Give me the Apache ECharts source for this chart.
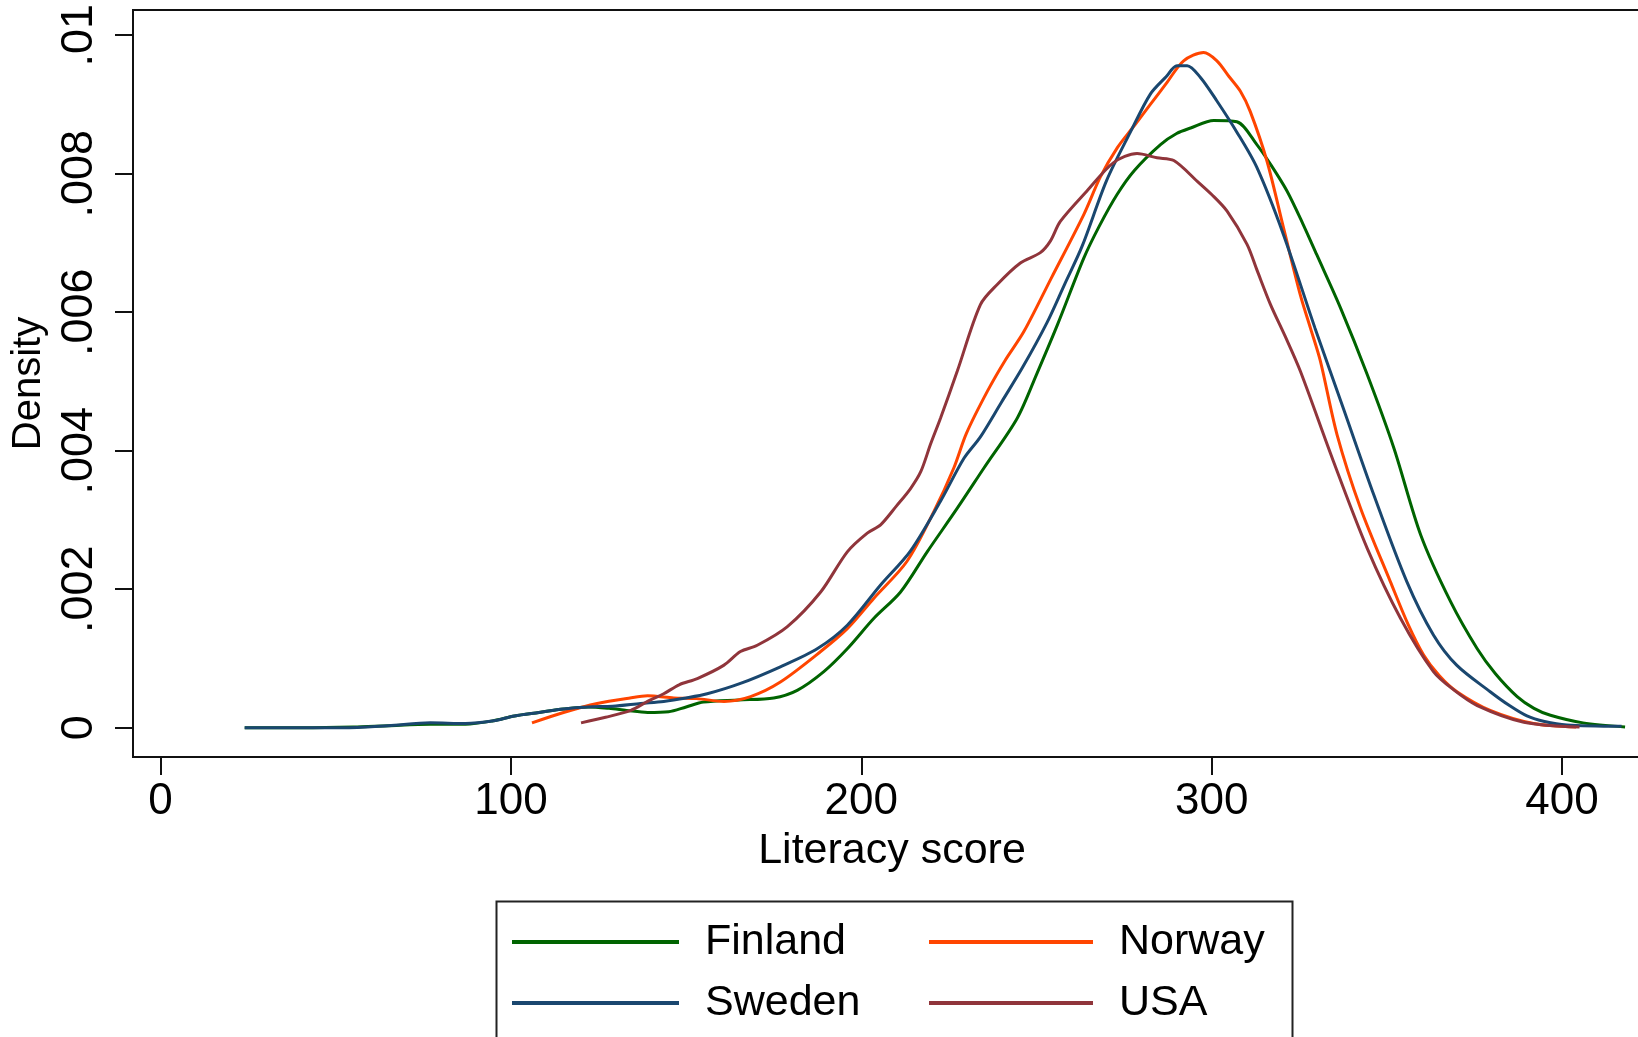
<!DOCTYPE html>
<html>
<head>
<meta charset="utf-8">
<script src="https://cdn.jsdelivr.net/npm/echarts@6/dist/echarts.min.js"></script>
<style>
html,body{margin:0;padding:0;background:#fff;}
#chart{width:1638px;height:1037px;}
</style>
</head>
<body>
<div id="chart"></div>
<script>
var seriesNames = ['Finland', 'Norway', 'Sweden', 'USA'];
var seriesColors = ['#006400', '#ff4500', '#1a476f', '#90353b'];

var xTickValues = [0, 100, 200, 300, 400];
var yTickValues = [0, 0.002, 0.004, 0.006, 0.008, 0.01];
var yTickLabels = ['0', '.002', '.004', '.006', '.008', '.01'];

var finland = [[24,0],[40,0],[55,0.00001],[65,0.00003],[77,0.00005],[87,0.00005],[95,0.0001],[101,0.00017],[108,0.00022],[115,0.00027],[122,0.0003],[128,0.00028],[133,0.00025],[139,0.00022],[145,0.00023],[150,0.0003],[155,0.00037],[165,0.0004],[175,0.00043],[181.7,0.00054],[189.3,0.00081],[196,0.00114],[203.6,0.00158],[211.2,0.00196],[218.8,0.00254],[227.4,0.00317],[235,0.00375],[244.5,0.00447],[250,0.0051],[256,0.00582],[263.5,0.00678],[268,0.00725],[273,0.0077],[278,0.00805],[285.4,0.00842],[290,0.00858],[294,0.00866],[300.6,0.00877],[307.2,0.00875],[312.9,0.00842],[317,0.00812],[321.5,0.00775],[326,0.00728],[330,0.00683],[336.8,0.00606],[344.4,0.0051],[352,0.00404],[359.7,0.00278],[368.2,0.00182],[375.8,0.00114],[381,0.00078],[387.2,0.00045],[392,0.00028],[396.7,0.00018],[406,0.00007],[418,0.00001]];

var norway = [[106,0.00007],[115,0.00022],[124.6,0.00035],[134,0.00043],[139,0.00046],[146.5,0.00043],[153,0.00042],[160.8,0.00038],[168.4,0.00045],[176.9,0.00066],[188.4,0.0011],[196,0.00143],[203.6,0.00187],[213,0.0024],[220.7,0.00312],[226.4,0.00375],[230,0.00425],[236,0.00486],[241,0.0053],[246.4,0.00572],[254.3,0.0065],[263.5,0.00741],[268.2,0.00795],[273,0.00837],[278,0.0087],[282.5,0.009],[287,0.0093],[292,0.00963],[297.7,0.00975],[301.5,0.00963],[305,0.0094],[308.2,0.00919],[311,0.0089],[315.8,0.00818],[320.5,0.00722],[325.3,0.00625],[328.2,0.00577],[331,0.0053],[335.8,0.00423],[342.5,0.00317],[351,0.00211],[356,0.0015],[360.5,0.00105],[365,0.00075],[370,0.00052],[379.5,0.00025],[391.9,0.00006],[404,0.00001]];

var sweden = [[24,0],[40,0],[52,0],[65,0.00003],[77,0.00007],[87,0.00006],[95,0.0001],[101,0.00017],[108,0.00022],[115,0.00027],[122,0.0003],[129,0.00031],[137,0.00035],[143.6,0.00038],[150,0.00043],[156,0.00049],[165.5,0.00064],[176.9,0.00088],[187.4,0.00114],[196,0.00148],[205.5,0.00206],[214,0.00255],[222.6,0.00327],[229.3,0.00389],[234,0.0042],[240,0.0047],[246,0.0052],[253,0.00585],[258,0.0064],[263,0.00695],[270,0.0079],[276.8,0.0086],[282.5,0.00915],[287,0.0094],[290.1,0.00956],[293,0.00956],[296.8,0.00939],[301.5,0.00905],[307.2,0.0086],[312.9,0.00809],[320.5,0.00712],[329.5,0.00577],[337.6,0.00461],[346.3,0.00336],[355.7,0.00211],[363.3,0.00134],[370,0.0009],[379.5,0.00052],[385,0.00032],[390,0.00017],[395,0.00009],[401.4,0.00004],[417,0.00002]];

var usa = [[120,0.00007],[127,0.00015],[134.2,0.00025],[139,0.00038],[143.6,0.00049],[148,0.00062],[153.2,0.00071],[160.7,0.0009],[165.5,0.0011],[170.3,0.00119],[178.9,0.00146],[188.4,0.00196],[196,0.00254],[201.7,0.00281],[205.5,0.00293],[210,0.0032],[214,0.00345],[217,0.0037],[219.8,0.0041],[222.6,0.00447],[227.4,0.00515],[234,0.00611],[238.8,0.0064],[245.4,0.00671],[251.1,0.00686],[254,0.00703],[256.8,0.00731],[264.4,0.00775],[272,0.00816],[278.7,0.00829],[284.4,0.00823],[289.2,0.00819],[295.9,0.00789],[300,0.0077],[304.4,0.00746],[310.1,0.00698],[313,0.0066],[316.8,0.00611],[321,0.00565],[325.3,0.00515],[334.8,0.00384],[344.4,0.00259],[353.9,0.00158],[363.3,0.00081],[369,0.00055],[375.8,0.00032],[389.1,0.00008],[405,0.00001]];

var seriesData = [finland, norway, sweden, usa];

var FONT = "'Liberation Sans', Arial, sans-serif";

var chart = echarts.init(document.getElementById('chart'), null, {renderer: 'canvas'});

var legendText = {color: '#000', fontSize: 43, fontFamily: FONT, lineHeight: 44, padding: [0, 0, 0, 21]};

var option = {
  backgroundColor: '#ffffff',
  animation: false,
  grid: {
    left: 133, top: 10, width: 1518, height: 747,
    outerBoundsMode: 'none', containLabel: false,
    show: true, borderColor: '#111', borderWidth: 2, backgroundColor: 'transparent'
  },
  xAxis: {
    type: 'value', min: -7.88, max: 425.4,
    name: 'Literacy score', nameLocation: 'middle', nameGap: 73,
    nameTextStyle: {color: '#000', fontSize: 43, fontFamily: FONT, lineHeight: 43},
    axisLine: {show: false, onZero: false},
    splitLine: {show: false},
    axisTick: {show: true, inside: false, length: 18, lineStyle: {color: '#111', width: 2}, customValues: xTickValues},
    axisLabel: {show: true, margin: 23, color: '#000', fontSize: 44, fontFamily: FONT, lineHeight: 44, customValues: xTickValues}
  },
  yAxis: {
    type: 'value', min: -0.000423, max: 0.010364,
    name: 'Density', nameLocation: 'middle', nameGap: 79, nameRotate: 90,
    nameTextStyle: {color: '#000', fontSize: 40, fontFamily: FONT, lineHeight: 40},
    axisLine: {show: false, onZero: false},
    splitLine: {show: false},
    axisTick: {show: true, inside: false, length: 18, lineStyle: {color: '#111', width: 2}, customValues: yTickValues},
    axisLabel: {
      show: true, rotate: 90, margin: 31, color: '#000', fontSize: 45, fontFamily: FONT, lineHeight: 45,
      customValues: yTickValues,
      formatter: function (v) {
        for (var i = 0; i < yTickValues.length; i++) {
          if (Math.abs(v - yTickValues[i]) < 1e-9) return yTickLabels[i];
        }
        return '';
      }
    }
  },
  legend: [
    {
      orient: 'vertical', left: 507, top: 915, padding: 5,
      data: [seriesNames[0], seriesNames[2]],
      icon: 'rect', itemWidth: 167, itemHeight: 4, itemGap: 17,
      textStyle: legendText, selectedMode: false
    },
    {
      orient: 'vertical', left: 924, top: 915, padding: 5,
      data: [seriesNames[1], seriesNames[3]],
      icon: 'rect', itemWidth: 164, itemHeight: 4, itemGap: 17,
      textStyle: legendText, selectedMode: false
    }
  ],
  graphic: [
    {
      type: 'rect', left: 494, top: 899, silent: true,
      shape: {width: 796, height: 200},
      style: {fill: 'none', stroke: '#222', lineWidth: 2}
    }
  ],
  series: seriesNames.map(function (name, i) {
    return {
      name: name, type: 'line', data: seriesData[i],
      showSymbol: false, smooth: 0.3,
      lineStyle: {color: seriesColors[i], width: 3},
      itemStyle: {color: seriesColors[i]},
      emphasis: {disabled: true}
    };
  })
};

chart.setOption(option);
</script>
</body>
</html>
